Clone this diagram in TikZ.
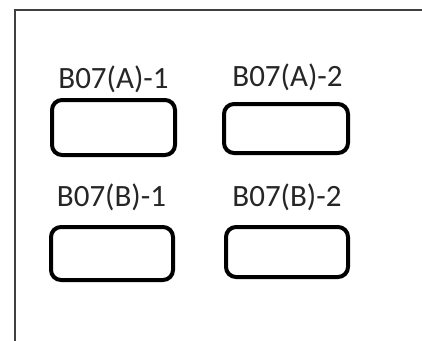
\documentclass[tikz,border=0pt]{standalone}
\usepackage{fontspec}
\setmainfont{Carlito}
\begin{document}
\begin{tikzpicture}[x=1pt,y=-1pt,
  slot/.style={draw=black,line width=4pt,rounded corners=10pt,inner sep=0pt,outer sep=0pt},
  lbl/.style={anchor=base,inner sep=0pt,font=\fontsize{31}{36}\selectfont,text=black!85}]
\useasboundingbox (0,0) rectangle (422,340);
\coordinate (fbl) at (14.5,341);
\coordinate (ftl) at (14.5,9.5);
\coordinate (ftr) at (423,9.5);
\draw[line width=2pt,black!75] (fbl) -- (ftl) -- (ftr);
\node[slot,minimum width=123pt,minimum height=55pt] (a1) at (113.5,127.5) {};
\node[slot,minimum width=124pt,minimum height=49pt] (a2) at (286,128.5) {};
\node[slot,minimum width=122pt,minimum height=53pt] (b1) at (112,253.5) {};
\node[slot,minimum width=122pt,minimum height=50pt] (b2) at (287,252) {};
\node[lbl] (la1) at (113.5,88) {B07(A)-1};
\node[lbl] (la2) at (287.5,86) {B07(A)-2};
\node[lbl] (lb1) at (111.5,206) {B07(B)-1};
\node[lbl] (lb2) at (287,206) {B07(B)-2};
\end{tikzpicture}
\end{document}
